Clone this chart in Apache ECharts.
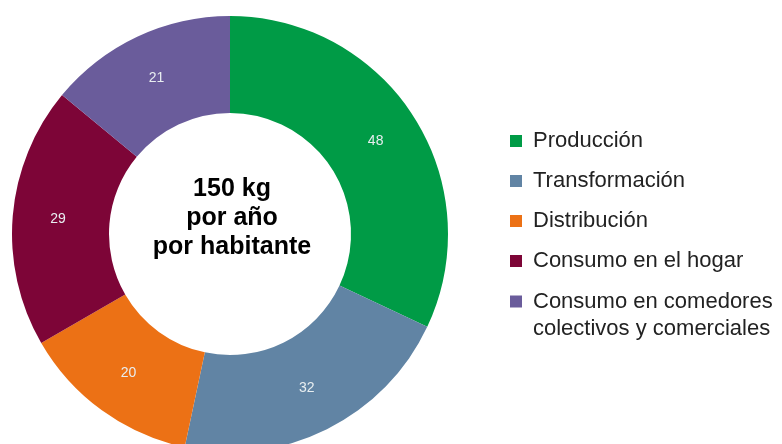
<!DOCTYPE html>
<html>
<head>
<meta charset="utf-8">
<script src="https://cdn.jsdelivr.net/npm/echarts@6/dist/echarts.min.js"></script>
<style>
  html, body { margin: 0; padding: 0; background: #fff; }
  #chart { width: 782px; height: 444px; }
</style>
</head>
<body>
<div id="chart"></div>
<script>
// etapas de la cadena y kg por habitante
var etapas = ['Producción', 'Transformación', 'Distribución', 'Consumo en el hogar',
  'Consumo en comedores\ncolectivos y comerciales'];
var valores = [48, 32, 20, 29, 21];
var colores = ['#009b46', '#6184a4', '#ec7115', '#7d0537', '#6a5c9b'];
var textoCentro = '150 kg\npor año\npor habitante';

var datos = etapas.map(function(n, i) {
  return { name: n, value: valores[i], itemStyle: { color: colores[i] } };
});

var fuente = '"Liberation Sans", Arial, sans-serif';
// cuadrado dentro de un ancho mayor, para separar el texto
var cuadro = 'path://M0,0h1v1h-1z';

var chart = echarts.init(document.getElementById('chart'));
chart.setOption({
  animation: false,
  legend: [
    {
      // primeros 4 elementos
      data: etapas.slice(0, 4),
      orient: 'vertical',
      left: 510,
      top: 129,
      padding: 0,
      itemWidth: 24,
      itemHeight: 12,
      itemGap: 16,
      icon: cuadro,
      selectedMode: false,
      textStyle: { fontFamily: fuente, fontSize: 22, color: '#222', lineHeight: 24 }
    },
    {
      // el ultimo va aparte, por las dos lineas
      data: etapas.slice(4),
      orient: 'vertical',
      left: 510,
      top: 261,
      padding: 0,
      itemWidth: 24,
      itemHeight: 12,
      icon: cuadro,
      selectedMode: false,
      formatter: function(n) { return '{e| }\n' + n; },
      textStyle: {
        fontFamily: fuente, fontSize: 22, color: '#222', lineHeight: 27,
        rich: { e: { fontSize: 22, lineHeight: 27 } }
      }
    }
  ],
  graphic: [{
    type: 'text',
    x: 232,
    y: 218,
    style: {
      text: textoCentro,
      align: 'center',
      verticalAlign: 'middle',
      font: 'bold 25px ' + fuente,
      lineHeight: 29,
      fill: '#000'
    }
  }],
  series: [{
    type: 'pie',
    center: [230, 234],
    radius: [121, 218],
    startAngle: 90,
    clockwise: true,
    avoidLabelOverlap: false,
    label: {
      show: true,
      position: 'inside',
      formatter: '{c}',
      color: '#e8eef0',
      fontFamily: fuente,
      fontSize: 14
    },
    labelLine: { show: false },
    emphasis: { disabled: true },
    data: datos
  }]
});
</script>
</body>
</html>
